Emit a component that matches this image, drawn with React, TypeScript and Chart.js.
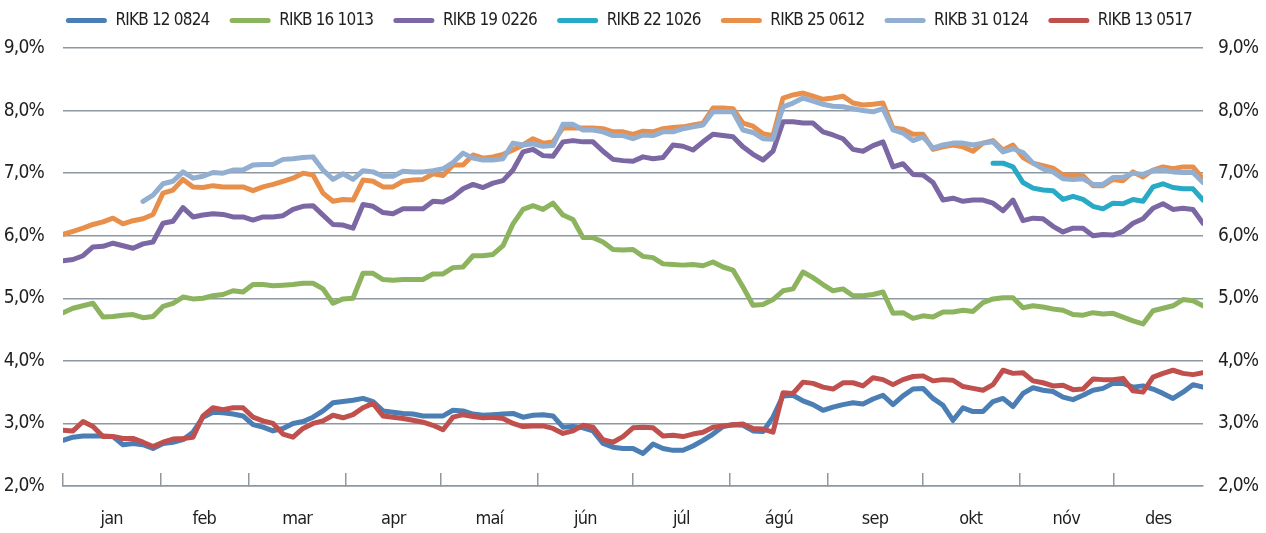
import React, { useEffect, useRef } from 'react';
import { Chart, registerables } from 'chart.js';

Chart.register(...registerables);

const FONT = "'DejaVu Sans Condensed', 'Liberation Sans Narrow', sans-serif";
const GRID = '#8e98a0';
const TEXT = '#1f1f1f';
const LETTER_SPACING = '-0.8px';

const SERIES_NAMES = ['RIKB 12 0824', 'RIKB 16 1013', 'RIKB 19 0226', 'RIKB 22 1026', 'RIKB 25 0612', 'RIKB 31 0124', 'RIKB 13 0517'];
const SERIES_COLORS = ['#4a7eb4', '#8cb35d', '#7b67a4', '#28a9c6', '#e8904b', '#92aed0', '#c0504d'];

const MONTH_LABELS = ['jan', 'feb', 'mar', 'apr', 'maí', 'jún', 'júl', 'ágú', 'sep', 'okt', 'nóv', 'des'];
// month boundaries on the x index (0..114)
const MONTH_STARTS = [0, 9.73, 18.53, 28.3, 37.77, 47.5, 56.97, 66.7, 76.47, 85.93, 95.63, 105.03, 114];

const Y_MIN = 2;
const Y_MAX = 9;
const Y_STEP = 1;
const X_MAX = 114;

const RIKB_12_0824 = [
  2.73, 2.78, 2.80, 2.80, 2.80, 2.79, 2.66, 2.68, 2.66, 2.60,
  2.68, 2.70, 2.74, 2.86, 3.10, 3.18, 3.17, 3.15, 3.12, 2.98,
  2.94, 2.88, 2.92, 3.00, 3.03, 3.10, 3.20, 3.33, 3.35, 3.37,
  3.40, 3.35, 3.20, 3.18, 3.16, 3.15, 3.12, 3.12, 3.12, 3.21,
  3.20, 3.15, 3.13, 3.14, 3.15, 3.16, 3.10, 3.13, 3.14, 3.12,
  2.94, 2.95, 2.93, 2.88, 2.68, 2.62, 2.60, 2.60, 2.52, 2.67,
  2.60, 2.57, 2.57, 2.64, 2.73, 2.83, 2.95, 2.98, 2.97, 2.88,
  2.87, 3.10, 3.44, 3.45, 3.36, 3.30, 3.21, 3.26, 3.30, 3.33,
  3.31, 3.39, 3.45, 3.30, 3.44, 3.55, 3.56, 3.40, 3.29, 3.05,
  3.25, 3.19, 3.19, 3.35, 3.40, 3.27, 3.48, 3.57, 3.53, 3.51,
  3.42, 3.38, 3.45, 3.53, 3.56, 3.64, 3.64, 3.58, 3.60, 3.55,
  3.48, 3.40, 3.50, 3.62, 3.58,
];

const RIKB_16_1013 = [
  4.77, 4.84, 4.88, 4.92, 4.70, 4.71, 4.73, 4.74, 4.69, 4.71,
  4.87, 4.92, 5.02, 4.99, 5.00, 5.04, 5.06, 5.12, 5.10, 5.22,
  5.22, 5.20, 5.21, 5.22, 5.24, 5.24, 5.15, 4.92, 4.99, 5.00,
  5.40, 5.40, 5.30, 5.29, 5.30, 5.30, 5.30, 5.39, 5.39, 5.49,
  5.50, 5.68, 5.68, 5.70, 5.84, 6.19, 6.42, 6.48, 6.42, 6.52,
  6.33, 6.26, 5.97, 5.97, 5.90, 5.78, 5.77, 5.78, 5.67, 5.65,
  5.55, 5.54, 5.53, 5.54, 5.52, 5.58, 5.50, 5.45, 5.18, 4.89,
  4.90, 4.98, 5.12, 5.15, 5.42, 5.33, 5.22, 5.12, 5.15, 5.04,
  5.04, 5.06, 5.10, 4.76, 4.77, 4.68, 4.72, 4.70, 4.78, 4.78,
  4.81, 4.79, 4.93, 4.99, 5.01, 5.01, 4.85, 4.88, 4.86, 4.83,
  4.81, 4.74, 4.73, 4.77, 4.75, 4.76, 4.70, 4.64, 4.59, 4.80,
  4.84, 4.88, 4.98, 4.96, 4.88,
];

const RIKB_19_0226 = [
  5.60, 5.62, 5.68, 5.82, 5.83, 5.88, 5.84, 5.80, 5.87, 5.90,
  6.20, 6.23, 6.45, 6.30, 6.33, 6.35, 6.34, 6.30, 6.30, 6.25,
  6.30, 6.30, 6.32, 6.42, 6.47, 6.48, 6.33, 6.18, 6.17, 6.12,
  6.50, 6.47, 6.37, 6.35, 6.43, 6.43, 6.43, 6.55, 6.54, 6.62,
  6.75, 6.82, 6.77, 6.84, 6.88, 7.05, 7.34, 7.38, 7.28, 7.27,
  7.50, 7.52, 7.50, 7.50, 7.35, 7.22, 7.20, 7.19, 7.26, 7.23,
  7.25, 7.45, 7.43, 7.37, 7.50, 7.62, 7.60, 7.58, 7.42, 7.30,
  7.21, 7.35, 7.82, 7.82, 7.80, 7.80, 7.66, 7.61, 7.55, 7.38,
  7.35, 7.44, 7.50, 7.10, 7.15, 6.98, 6.97, 6.85, 6.57, 6.60,
  6.55, 6.57, 6.57, 6.52, 6.40, 6.57, 6.24, 6.28, 6.27, 6.15,
  6.06, 6.12, 6.12, 6.00, 6.02, 6.01, 6.07, 6.20, 6.27, 6.44,
  6.51, 6.42, 6.44, 6.42, 6.20,
];

const RIKB_22_1026 = [
  null, null, null, null, null, null, null, null, null, null,
  null, null, null, null, null, null, null, null, null, null,
  null, null, null, null, null, null, null, null, null, null,
  null, null, null, null, null, null, null, null, null, null,
  null, null, null, null, null, null, null, null, null, null,
  null, null, null, null, null, null, null, null, null, null,
  null, null, null, null, null, null, null, null, null, null,
  null, null, null, null, null, null, null, null, null, null,
  null, null, null, null, null, null, null, null, null, null,
  null, null, null, 7.16, 7.16, 7.10, 6.85, 6.76, 6.73, 6.72,
  6.58, 6.63, 6.58, 6.47, 6.43, 6.52, 6.51, 6.58, 6.55, 6.78,
  6.83, 6.77, 6.75, 6.75, 6.57,
];

const RIKB_25_0612 = [
  6.02, 6.07, 6.12, 6.18, 6.22, 6.28, 6.19, 6.24, 6.27, 6.34,
  6.68, 6.73, 6.90, 6.78, 6.77, 6.80, 6.78, 6.78, 6.78, 6.72,
  6.78, 6.82, 6.87, 6.92, 7.00, 6.97, 6.68, 6.55, 6.58, 6.57,
  6.89, 6.87, 6.78, 6.78, 6.87, 6.89, 6.90, 6.99, 6.96, 7.13,
  7.13, 7.29, 7.24, 7.26, 7.30, 7.37, 7.45, 7.55, 7.48, 7.50,
  7.72, 7.72, 7.72, 7.72, 7.71, 7.66, 7.66, 7.62, 7.67, 7.66,
  7.71, 7.73, 7.74, 7.77, 7.80, 8.04, 8.04, 8.03, 7.80, 7.75,
  7.63, 7.60, 8.20, 8.25, 8.28, 8.23, 8.18, 8.20, 8.23, 8.12,
  8.09, 8.10, 8.12, 7.72, 7.70, 7.62, 7.62, 7.38, 7.42, 7.45,
  7.42, 7.35, 7.48, 7.52, 7.37, 7.45, 7.25, 7.16, 7.12, 7.08,
  6.97, 6.97, 6.96, 6.80, 6.80, 6.90, 6.88, 7.02, 6.94, 7.05,
  7.10, 7.07, 7.10, 7.10, 6.91,
];

const RIKB_31_0124 = [
  null, null, null, null, null, null, null, null, 6.55, 6.65,
  6.83, 6.87, 7.02, 6.92, 6.95, 7.01, 7.00, 7.05, 7.05, 7.13,
  7.14, 7.14, 7.22, 7.23, 7.25, 7.26, 7.05, 6.90, 6.99, 6.90,
  7.04, 7.02, 6.95, 6.95, 7.03, 7.02, 7.02, 7.04, 7.07, 7.17,
  7.32, 7.24, 7.21, 7.21, 7.23, 7.48, 7.45, 7.47, 7.43, 7.44,
  7.78, 7.78, 7.69, 7.69, 7.66, 7.60, 7.60, 7.55, 7.61, 7.60,
  7.66, 7.66, 7.71, 7.74, 7.77, 7.98, 7.98, 7.98, 7.69, 7.65,
  7.55, 7.54, 8.06, 8.12, 8.20, 8.15, 8.10, 8.07, 8.06, 8.03,
  8.00, 7.98, 8.03, 7.69, 7.64, 7.52, 7.58, 7.40, 7.45, 7.48,
  7.48, 7.45, 7.48, 7.50, 7.34, 7.39, 7.33, 7.16, 7.07, 7.02,
  6.91, 6.90, 6.91, 6.82, 6.82, 6.93, 6.93, 7.00, 6.98, 7.04,
  7.05, 7.02, 7.01, 7.01, 6.85,
];

const RIKB_13_0517 = [
  2.89, 2.88, 3.03, 2.95, 2.79, 2.79, 2.76, 2.76, 2.70, 2.63,
  2.70, 2.75, 2.76, 2.78, 3.12, 3.25, 3.22, 3.25, 3.25, 3.10,
  3.04, 3.00, 2.83, 2.78, 2.92, 3.00, 3.04, 3.13, 3.09, 3.14,
  3.25, 3.32, 3.12, 3.10, 3.08, 3.05, 3.02, 2.97, 2.90, 3.10,
  3.14, 3.11, 3.09, 3.10, 3.08, 3.00, 2.95, 2.96, 2.96, 2.92,
  2.84, 2.88, 2.97, 2.94, 2.74, 2.70, 2.79, 2.93, 2.94, 2.93,
  2.80, 2.81, 2.79, 2.83, 2.86, 2.94, 2.96, 2.98, 2.99, 2.92,
  2.91, 2.86, 3.49, 3.48, 3.66, 3.64, 3.58, 3.55, 3.65, 3.65,
  3.60, 3.73, 3.70, 3.62, 3.70, 3.75, 3.76, 3.68, 3.70, 3.69,
  3.59, 3.56, 3.53, 3.62, 3.85, 3.80, 3.81, 3.68, 3.65, 3.60,
  3.61, 3.54, 3.55, 3.71, 3.70, 3.70, 3.72, 3.52, 3.50, 3.74,
  3.80, 3.85, 3.80, 3.78, 3.81,
];

const SERIES_VALUES = [RIKB_12_0824, RIKB_16_1013, RIKB_19_0226, RIKB_22_1026, RIKB_25_0612, RIKB_31_0124, RIKB_13_0517];

const MONTH_MIDS = MONTH_LABELS.map((_, i) => (MONTH_STARTS[i] + MONTH_STARTS[i + 1]) / 2);
const BOUNDARY_TICKS = MONTH_STARTS.slice(0, 12);

const setSpacing = (chart: any) => {
  const ctx = chart.ctx as any;
  if (ctx && 'letterSpacing' in ctx) ctx.letterSpacing = LETTER_SPACING;
};

const layoutPlugin = {
  id: 'layoutTweaks',
  beforeLayout(chart: any) {
    setSpacing(chart);
    const lg = chart.legend;
    if (lg && !lg.__patched) {
      const orig = lg.fit;
      lg.fit = function () {
        orig.call(this);
        this.height = 48;
      };
      lg.__patched = true;
    }
  },
  beforeDraw(chart: any) {
    setSpacing(chart);
  },
};

export default function App() {
  const canvasRef = useRef<HTMLCanvasElement | null>(null);

  useEffect(() => {
    if (!canvasRef.current) return;
    const datasets = SERIES_NAMES.map((name, si) => ({
      label: name,
      data: SERIES_VALUES[si]
        .map((v, i) => (v === null ? null : { x: i, y: v }))
        .filter((p) => p !== null),
      borderColor: SERIES_COLORS[si],
      backgroundColor: SERIES_COLORS[si],
      borderWidth: 5,
      pointRadius: 0,
      pointHoverRadius: 0,
      tension: 0,
      borderJoinStyle: 'round' as const,
      borderCapStyle: 'round' as const,
      order: -si,
    }));

    const chart = new Chart(canvasRef.current, {
      type: 'line',
      data: { datasets: datasets as any },
      plugins: [layoutPlugin],
      options: {
        animation: false,
        responsive: true,
        maintainAspectRatio: false,
        layout: { padding: 0 },
        plugins: {
          tooltip: { enabled: false },
          legend: {
            display: true,
            position: 'top',
            align: 'center',
            labels: {
              boxWidth: 41,
              boxHeight: 5,
              padding: 12,
              color: TEXT,
              font: { family: FONT, size: 17 },
              generateLabels: (c: any) =>
                c.data.datasets.map((ds: any, i: number) => ({
                  text: ds.label + '  ',
                  fillStyle: ds.borderColor,
                  strokeStyle: ds.borderColor,
                  lineWidth: 0,
                  borderRadius: 2.5,
                  hidden: false,
                  datasetIndex: i,
                  fontColor: TEXT,
                })),
            },
          },
        },
        scales: {
          x: {
            type: 'linear',
            position: 'bottom',
            min: 0,
            max: X_MAX,
            afterBuildTicks: (scale: any) => {
              const t: any[] = [];
              BOUNDARY_TICKS.forEach((v, i) => {
                t.push({ value: v });
                t.push({ value: MONTH_MIDS[i] });
              });
              scale.ticks = t;
            },
            afterFit: (scale: any) => {
              scale.height = 47;
            },
            ticks: {
              autoSkip: false,
              maxRotation: 0,
              padding: 36,
              color: TEXT,
              font: { family: FONT, size: 18 },
              callback: (value: any) => {
                const k = MONTH_MIDS.indexOf(value);
                return k >= 0 ? MONTH_LABELS[k] : '';
              },
            },
            grid: {
              drawOnChartArea: false,
              drawTicks: true,
              tickLength: -13,
              lineWidth: 1.5,
              color: (ctx: any) =>
                ctx.tick && BOUNDARY_TICKS.indexOf(ctx.tick.value) >= 0 ? GRID : 'rgba(0,0,0,0)',
            },
            border: { display: true, color: GRID, width: 1.5 },
          },
          y: {
            type: 'linear',
            position: 'left',
            min: Y_MIN,
            max: Y_MAX,
            afterFit: (scale: any) => {
              scale.width = 63;
            },
            ticks: {
              stepSize: Y_STEP,
              padding: 19,
              color: TEXT,
              font: { family: FONT, size: 19 },
              callback: (v: any) => Number(v).toFixed(1).replace('.', ',') + '%',
            },
            grid: { color: GRID, lineWidth: 1.5, drawTicks: false },
            border: { display: false },
          },
          y2: {
            type: 'linear',
            position: 'right',
            min: Y_MIN,
            max: Y_MAX,
            afterFit: (scale: any) => {
              scale.width = 63;
            },
            ticks: {
              stepSize: Y_STEP,
              padding: 15,
              color: TEXT,
              font: { family: FONT, size: 19 },
              callback: (v: any) => Number(v).toFixed(1).replace('.', ',') + '%',
            },
            grid: { drawOnChartArea: false, drawTicks: false },
            border: { display: false },
          },
        },
      } as any,
    });
    return () => chart.destroy();
  }, []);

  return (
    <div style={{ position: 'absolute', left: 0, top: 0, width: 1266, height: 533, background: '#fff' }}>
      <canvas ref={canvasRef} />
    </div>
  );
}
